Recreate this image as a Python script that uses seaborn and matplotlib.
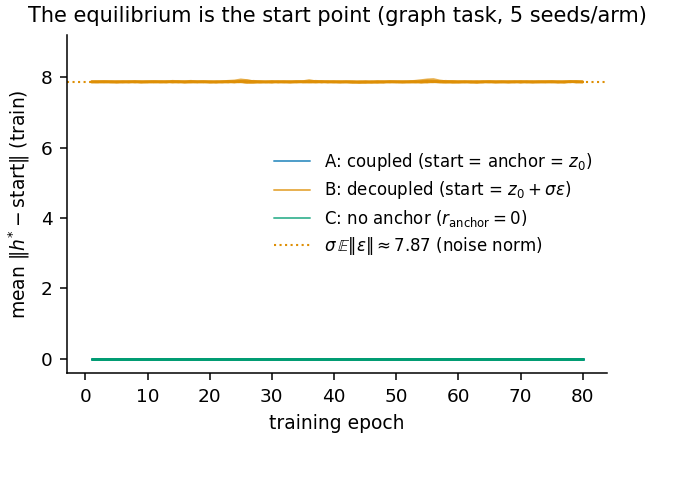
import numpy as np
import pandas as pd
import seaborn as sns
from matplotlib import pyplot as plt

# training epochs 1..80
epochs = list(range(1, 81))

# arm A / C: distance stays at zero for every seed
arm_a = [0.0] * 80
arm_c = [0.0] * 80

# arm B: per-seed mean ||h* - start||
b_seed1 = [7.87, 7.86, 7.87, 7.88, 7.87, 7.86, 7.87, 7.87, 7.88, 7.87,
           7.86, 7.87, 7.88, 7.87, 7.86, 7.87, 7.87, 7.86, 7.87, 7.88,
           7.87, 7.88, 7.89, 7.90, 7.93, 7.91, 7.88, 7.87, 7.86, 7.87,
           7.87, 7.88, 7.87, 7.86, 7.88, 7.91, 7.88, 7.87, 7.87, 7.86,
           7.87, 7.88, 7.87, 7.85, 7.86, 7.87, 7.88, 7.87, 7.87, 7.86,
           7.87, 7.88, 7.89, 7.91, 7.93, 7.94, 7.90, 7.88, 7.87, 7.87,
           7.86, 7.87, 7.88, 7.87, 7.87, 7.86, 7.87, 7.88, 7.87, 7.87,
           7.86, 7.87, 7.88, 7.87, 7.86, 7.87, 7.88, 7.87, 7.87, 7.87]
b_seed2 = [7.86, 7.87, 7.86, 7.87, 7.88, 7.87, 7.86, 7.88, 7.87, 7.86,
           7.87, 7.88, 7.87, 7.86, 7.87, 7.88, 7.89, 7.87, 7.86, 7.87,
           7.86, 7.87, 7.86, 7.87, 7.88, 7.86, 7.85, 7.86, 7.87, 7.88,
           7.87, 7.86, 7.87, 7.88, 7.87, 7.88, 7.87, 7.86, 7.87, 7.88,
           7.87, 7.86, 7.85, 7.86, 7.87, 7.88, 7.87, 7.86, 7.87, 7.88,
           7.87, 7.86, 7.87, 7.86, 7.87, 7.88, 7.87, 7.86, 7.85, 7.86,
           7.87, 7.88, 7.87, 7.86, 7.87, 7.88, 7.87, 7.86, 7.87, 7.86,
           7.87, 7.88, 7.87, 7.86, 7.87, 7.86, 7.87, 7.88, 7.87, 7.86]
b_seed3 = [7.88, 7.87, 7.88, 7.87, 7.86, 7.87, 7.88, 7.87, 7.86, 7.87,
           7.88, 7.87, 7.86, 7.89, 7.88, 7.87, 7.86, 7.87, 7.88, 7.87,
           7.86, 7.87, 7.88, 7.87, 7.89, 7.90, 7.88, 7.86, 7.87, 7.88,
           7.86, 7.87, 7.88, 7.87, 7.86, 7.87, 7.89, 7.88, 7.86, 7.87,
           7.86, 7.87, 7.88, 7.86, 7.85, 7.86, 7.87, 7.88, 7.86, 7.87,
           7.88, 7.87, 7.86, 7.88, 7.90, 7.89, 7.87, 7.86, 7.88, 7.87,
           7.88, 7.86, 7.87, 7.88, 7.86, 7.87, 7.88, 7.86, 7.87, 7.88,
           7.87, 7.86, 7.87, 7.88, 7.87, 7.88, 7.86, 7.87, 7.88, 7.87]
b_seed4 = [7.87, 7.88, 7.87, 7.86, 7.87, 7.88, 7.87, 7.86, 7.87, 7.88,
           7.87, 7.86, 7.87, 7.87, 7.88, 7.86, 7.87, 7.88, 7.87, 7.86,
           7.88, 7.86, 7.87, 7.88, 7.87, 7.85, 7.86, 7.88, 7.87, 7.86,
           7.88, 7.87, 7.86, 7.87, 7.88, 7.87, 7.86, 7.88, 7.87, 7.87,
           7.88, 7.87, 7.86, 7.87, 7.88, 7.86, 7.85, 7.86, 7.88, 7.87,
           7.86, 7.87, 7.88, 7.87, 7.86, 7.87, 7.88, 7.89, 7.87, 7.86,
           7.87, 7.86, 7.85, 7.87, 7.88, 7.87, 7.86, 7.87, 7.88, 7.86,
           7.88, 7.87, 7.86, 7.87, 7.88, 7.87, 7.86, 7.88, 7.86, 7.87]
b_seed5 = [7.87, 7.87, 7.88, 7.87, 7.86, 7.87, 7.87, 7.88, 7.86, 7.87,
           7.88, 7.87, 7.87, 7.88, 7.87, 7.86, 7.88, 7.87, 7.88, 7.86,
           7.87, 7.87, 7.88, 7.86, 7.87, 7.87, 7.89, 7.88, 7.87, 7.86,
           7.87, 7.87, 7.86, 7.88, 7.87, 7.86, 7.87, 7.87, 7.88, 7.87,
           7.86, 7.87, 7.87, 7.88, 7.87, 7.86, 7.87, 7.87, 7.88, 7.87,
           7.86, 7.87, 7.87, 7.86, 7.88, 7.87, 7.86, 7.87, 7.88, 7.88,
           7.87, 7.87, 7.86, 7.87, 7.88, 7.86, 7.87, 7.87, 7.86, 7.88,
           7.87, 7.86, 7.87, 7.87, 7.88, 7.86, 7.87, 7.87, 7.88, 7.87]
b_seeds = [b_seed1, b_seed2, b_seed3, b_seed4, b_seed5]

noise_norm = 7.87

labels = ['A: coupled (start = anchor = $z_0$)',
          'B: decoupled (start = $z_0 + \\sigma\\varepsilon$)',
          'C: no anchor ($r_{\\mathrm{anchor}} = 0$)']
noise_label = '$\\sigma\\,\\mathbb{E}\\|\\varepsilon\\| \\approx 7.87$ (noise norm)'

sns.set_theme(style='ticks')
plt.rcParams['font.family'] = ['DejaVu Sans']
plt.rcParams['text.color'] = 'black'
plt.rcParams['axes.labelcolor'] = 'black'
pal = sns.color_palette('colorblind')
c_a, c_b, c_c = pal[0], pal[1], pal[2]

# long table: one row per (arm, seed, epoch)
rows = []
for s in range(5):
    for e, a, b, c in zip(epochs, arm_a, b_seeds[s], arm_c):
        rows.append(('A', s, e, a))
        rows.append(('B', s, e, b))
        rows.append(('C', s, e, c))
df = pd.DataFrame(rows, columns=['arm', 'seed', 'epoch', 'dist'])

fig = plt.figure(figsize=(6.77, 4.8), dpi=100)
ax = fig.add_axes([0.099, 0.223, 0.798, 0.704])

for arm, col, lab in zip(['A', 'B', 'C'], [c_a, c_b, c_c], labels):
    sub = df[df.arm == arm]
    sns.lineplot(data=sub, x='epoch', y='dist', units='seed', estimator=None,
                 color=col, lw=1.8, alpha=0.7, ax=ax, legend=False)
    ax.plot([], [], color=col, lw=1.4, alpha=0.7, label=lab)

ax.axhline(noise_norm, color=c_b, ls=':', lw=1.5, label=noise_label)

ax.set_xlim(-2.95, 83.95)
ax.set_ylim(-0.4, 9.2)
ax.set_xticks(range(0, 81, 10))
ax.set_yticks([0, 2, 4, 6, 8])
ax.tick_params(labelsize=13.3, length=5, width=1.1, pad=5.5, colors='black')
for sp in ax.spines.values():
    sp.set_linewidth(1.1)
    sp.set_color('black')
sns.despine(ax=ax)

ax.set_xlabel('training epoch', fontsize=13.5, labelpad=6)
ax.set_ylabel('mean $\\|h^{*} - \\mathrm{start}\\|$ (train)', fontsize=13.5, labelpad=6)
ax.set_title('The equilibrium is the start point (graph task, 5 seeds/arm)',
             fontsize=15, pad=9.5)
ax.legend(loc='center right', frameon=False, fontsize=12,
          labelspacing=0.37, handlelength=2.15)

fig.savefig('out.png', dpi=100)
